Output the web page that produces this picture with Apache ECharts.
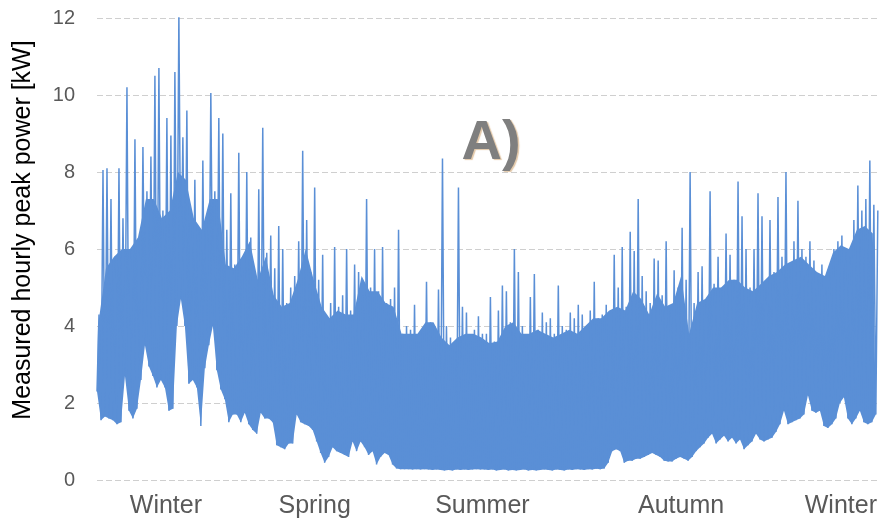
<!DOCTYPE html>
<html><head><meta charset="utf-8">
<script src="https://cdn.jsdelivr.net/npm/echarts@6/dist/echarts.min.js"></script>
<style>html,body{margin:0;padding:0;background:#fff}#c{width:880px;height:527px}</style>
</head><body><div id="c"></div>
<script>
// Daily peak (upper) and trough (lower) values of the measured hourly peak power [kW]
const upperPeaks = [
  4.3, 8.05, 8.1, 7.3, 5.8, 8.1, 6.8, 10.2, 6.0, 8.85, 6.2, 8.65, 7.5, 8.4, 10.5, 10.7, 7.0, 9.4, 8.95, 10.6,
  12.1, 8.9, 9.6, 7.0, 7.8, 6.5, 8.3, 6.8, 10.05, 7.5, 9.4, 9.0, 6.5,
  7.45, 5.6, 8.5, 5.5, 8.0, 6.3, 5.0, 7.55, 9.15, 5.9, 6.35, 5.5, 6.6, 6.0, 4.6, 5.0, 5.3, 6.2,
  8.55, 6.75, 5.4, 7.6, 5.2, 5.85, 3.7, 4.6, 6.05, 4.5, 4.8, 6.0, 4.4, 5.6,
  5.4, 4.8, 7.3, 5.0, 6.0, 4.9, 6.05, 4.6, 4.7, 5.0, 6.5, 3.8, 4.0, 3.9, 4.55, 3.6, 3.9, 5.15, 4.1, 4.0,
  4.95, 8.35, 4.0, 3.7, 3.4, 7.6, 4.5, 4.35, 3.6, 3.9, 4.25, 3.8,
  3.8, 4.75, 3.6, 4.4, 5.05, 4.9, 4.1, 6.0, 5.4, 4.0, 3.6, 4.75, 5.35, 3.9, 4.35, 4.1, 4.2, 3.8, 5.05, 4.0,
  3.9, 4.35, 4.2, 4.55, 4.3, 3.6, 4.4, 5.15, 4.2, 4.3, 4.55, 4.0, 5.85,
  5.0, 6.05, 4.5, 6.45, 5.95, 7.3, 5.3, 4.9, 4.6, 5.75, 5.7, 4.8, 6.2, 4.4, 5.45, 5.0, 6.55, 5.2, 8.0, 4.6,
  5.4, 5.55, 4.7, 7.5, 5.1, 5.8, 5.0, 6.4, 5.85, 5.2, 7.75, 6.85,
  6.0, 5.0, 6.0, 7.45, 6.85, 5.0, 6.75, 5.4, 7.35, 5.8, 8.0, 5.5, 6.2, 7.25, 6.0, 5.8, 6.2, 5.7, 5.3, 5.6,
  5.0, 5.4, 6.0, 6.2, 6.35, 5.9, 5.8, 6.75, 7.65, 7.0, 7.3, 8.3, 7.15, 7.0
];
const lowerTroughs = [
  2.3, 1.55, 1.65, 1.6, 1.55, 1.45, 1.5, 2.7, 1.8, 1.6, 1.85, 2.6, 3.5, 2.95, 2.7, 2.4, 2.6, 2.4, 1.8, 1.85,
  4.0, 4.7, 4.0, 2.5, 2.6, 2.4, 1.4, 2.9, 3.5, 4.0, 2.85, 2.35, 2.1,
  1.5, 1.7, 1.7, 1.5, 1.75, 1.45, 1.3, 1.2, 1.75, 1.6, 1.6, 1.5, 0.9, 0.85, 0.8, 0.95, 0.95, 1.7,
  1.5, 1.45, 1.4, 1.3, 1.0, 0.7, 0.45, 0.6, 0.85, 0.75, 0.7, 0.65, 0.6, 1.0,
  0.75, 1.0, 0.85, 0.65, 0.75, 0.4, 0.6, 0.7, 0.65, 0.4, 0.3, 0.28, 0.28, 0.28, 0.27, 0.28, 0.27, 0.28, 0.27, 0.26,
  0.27, 0.26, 0.25, 0.26, 0.25, 0.27, 0.26, 0.27, 0.26, 0.27, 0.28, 0.27,
  0.27, 0.26, 0.27, 0.25, 0.26, 0.27, 0.25, 0.26, 0.25, 0.26, 0.27, 0.25, 0.26, 0.25, 0.26, 0.27, 0.26, 0.25, 0.27, 0.26,
  0.25, 0.27, 0.26, 0.28, 0.27, 0.26, 0.28, 0.27, 0.29, 0.28, 0.3, 0.45, 0.75,
  0.8, 0.75, 0.45, 0.5, 0.5, 0.55, 0.55, 0.6, 0.65, 0.7, 0.65, 0.6, 0.5, 0.48, 0.48, 0.55, 0.6, 0.55, 0.5, 0.6,
  0.75, 0.85, 0.95, 1.1, 1.2, 0.95, 1.05, 1.15, 1.0, 1.1, 0.95, 1.05,
  0.8, 0.9, 1.0, 1.2, 1.05, 1.0, 1.05, 1.1, 1.25, 1.45, 1.8, 1.45, 1.5, 1.55, 1.6, 1.7, 2.2, 1.8, 1.75, 1.8,
  1.4, 1.35, 1.45, 1.6, 2.0, 2.15, 1.6, 1.45, 1.6, 1.8, 1.5, 1.45, 1.5, 1.7
];
// Top of the dense (solid) part of the band, one reading every second day step
const denseBandTop = [
  4.0, 5.5, 5.8, 6.0, 6.0, 6.3, 7.3, 7.3, 6.8, 7.0, 8.0, 7.8, 6.8, 6.5, 7.3, 7.3, 5.6, 5.5, 5.8, 6.2,
  5.2, 5.8, 4.8, 4.5, 4.6, 5.2, 6.0, 5.2, 4.5, 4.2, 4.4, 4.3, 4.3, 5.3, 4.9, 4.9, 4.6, 4.5, 3.8, 3.8,
  3.8, 4.1, 4.1, 3.7, 3.5, 3.7, 3.8, 3.8, 3.7, 3.55, 3.6, 4.0, 4.1, 3.8, 3.8, 3.9, 3.8, 3.7, 3.8, 3.9,
  3.8, 4.0, 4.2, 4.2, 4.4, 4.5, 4.4, 4.9, 4.7, 4.3, 4.85, 4.5, 4.6, 5.3, 3.8, 4.6, 4.7, 5.0, 5.0, 5.2,
  5.2, 5.0, 4.9, 5.1, 5.3, 5.4, 5.6, 5.7, 5.8, 5.6, 5.4, 5.3, 5.9, 6.1, 6.0, 6.5, 6.6, 6.4
];
const seasonLabels = ['Winter', 'Spring', 'Summer', 'Autumn', 'Winter'];
const seasonPositions = [34.5, 109, 193, 292.5, 372.5];
const yTickValues = [0, 2, 4, 6, 8, 10, 12];
const yAxisTitle = 'Measured hourly peak power [kW]';
const panelTag = 'A)';

const BLUE = '#5a8fd6';
const lineData = [];
for (let k = 0; k < upperPeaks.length; k++) {
  lineData.push([2 * k, lowerTroughs[k]]);
  lineData.push([2 * k + 1, upperPeaks[k]]);
}

const chart = echarts.init(document.getElementById('c'), null, {renderer: 'canvas'});
chart.setOption({
  animation: false,
  backgroundColor: '#ffffff',
  grid: {left: 97, right: 1, top: 18, bottom: 47, containLabel: false},
  xAxis: {
    type: 'value',
    min: 0,
    max: 2 * upperPeaks.length - 1,
    axisLine: {show: false},
    axisTick: {show: false},
    splitLine: {show: false},
    axisLabel: {
      customValues: seasonPositions,
      formatter: function (v) { const i = seasonPositions.indexOf(v); return i >= 0 ? seasonLabels[i] : ''; },
      fontFamily: 'Liberation Sans, Arial, sans-serif',
      fontSize: 25,
      color: '#595959',
      margin: 14
    }
  },
  yAxis: {
    type: 'value',
    min: yTickValues[0],
    max: yTickValues[yTickValues.length - 1],
    interval: 2,
    axisLine: {show: false},
    axisTick: {show: false},
    splitLine: {show: true, lineStyle: {color: '#cfcfcf', width: 1, type: [6, 3]}},
    axisLabel: {fontFamily: 'Liberation Sans, Arial, sans-serif', fontSize: 20, color: '#595959', margin: 22}
  },
  series: [
    {
      type: 'custom',
      silent: true,
      clip: true,
      z: 2,
      data: [[0, 0]],
      renderItem: function (params, api) {
        const pts = [];
        for (let m = 0; m < denseBandTop.length; m++) {
          pts.push(api.coord([4 * m + 0.5, denseBandTop[m]]));
        }
        for (let k = lowerTroughs.length - 1; k >= 0; k--) {
          pts.push(api.coord([2 * k, lowerTroughs[k]]));
        }
        return {type: 'polygon', shape: {points: pts}, style: {fill: BLUE}};
      }
    },
    {
      type: 'line',
      data: lineData,
      showSymbol: false,
      symbol: 'none',
      sampling: null,
      silent: true,
      lineStyle: {color: BLUE, width: 1.5},
      z: 3
    }
  ],
  graphic: [
    {
      type: 'text', x: 23, y: 230, rotation: Math.PI / 2, z: 10,
      style: {
        text: yAxisTitle, fill: '#000000', fontFamily: 'Liberation Sans, Arial, sans-serif', fontSize: 25,
        align: 'center', verticalAlign: 'middle', textAlign: 'center', textVerticalAlign: 'middle'
      }
    },
    {
      type: 'text', x: 491, y: 144, z: 10,
      style: {
        text: panelTag, fill: '#7f7f7f', fontFamily: 'Liberation Sans, Arial, sans-serif', fontSize: 56, fontWeight: 'bold',
        align: 'center', verticalAlign: 'middle', textAlign: 'center', textVerticalAlign: 'middle',
        textShadowColor: 'rgba(190,130,60,0.45)', textShadowOffsetX: 1.5, textShadowOffsetY: 1, textShadowBlur: 1
      }
    }
  ]
});
</script>
</body></html>
